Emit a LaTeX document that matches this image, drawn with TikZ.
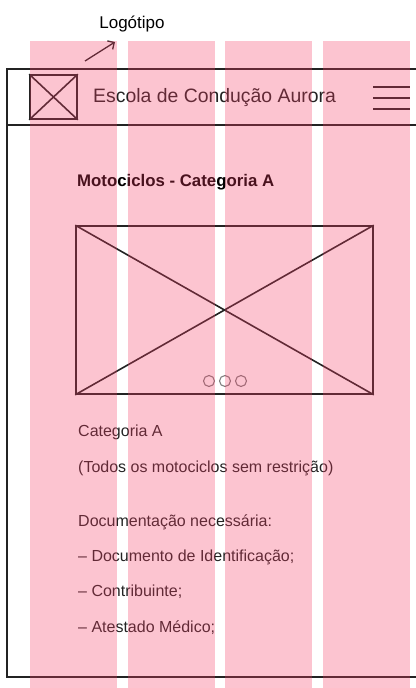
\documentclass[tikz,border=0pt]{standalone}
\usepackage{fontspec}
\setmainfont{Liberation Sans}
\usetikzlibrary{positioning,arrows.meta}
\definecolor{gridpink}{RGB}{245,60,100}
\definecolor{inkgray}{RGB}{35,35,35}

\begin{document}
\begin{tikzpicture}[x=1pt,y=-1pt]
			\tikzstyle{every node}+=[inner sep=0pt]
			\tikzstyle{wire}=[draw=inkgray, line width=1.6pt]
			\tikzstyle{body}=[text=inkgray, anchor=west, font=\fontsize{16}{19}\selectfont]
			\useasboundingbox (0,0) rectangle (415,688);
			% frame and header bar
			\draw [wire] (416,69) -- (7,69) -- (7,677) -- (416,677);
			\draw [wire] (7,125) -- (416,125);
			\node [wire, minimum width=47pt, minimum height=44pt] (logo) at (53.5,97) {};
			\draw [wire] (logo.north west) -- (logo.south east);
			\draw [wire] (logo.south west) -- (logo.north east);
			\node [anchor=west, text=inkgray, font=\fontsize{19.4}{22}\selectfont] (brand) at (93,98) {Escola de Condução Aurora};
			\foreach \y in {87,98,109}
				\draw [wire] (373,\y) -- (410,\y);
			% label
			\node [font=\fontsize{17}{20}\selectfont] (tag) at (132,24) {Logótipo};
			\coordinate (tail) at (85,61);
			\coordinate (head) at (115,42);
			\draw [-{Straight Barb[length=5pt,width=10pt]}, line width=1.3pt, inkgray] (tail) -- (head);
			% content
			\node [anchor=west, text=black, font=\fontsize{16.8}{20}\selectfont\bfseries] (title) at (77,182) {Motociclos - Categoria A};
			\node [wire, minimum width=297pt, minimum height=168pt] (slide) at (224.5,310) {};
			\draw [wire] (slide.north west) -- (slide.south east);
			\draw [wire] (slide.south west) -- (slide.north east);
			\foreach \x in {209,225,241}
				\draw [gray, line width=1.1pt] (\x,381) circle (5.5);
			\node [body] (cat) at (78,432) {Categoria A};
			\node [body] (scope) at (78,468) {(Todos os motociclos sem restrição)};
			\node [body] (docs) at (78,522) {Documentação necessária:};
			\node [body] (docid) at (78,557) {– Documento de Identificação;};
			\node [body] (docnif) at (78,592) {– Contribuinte;};
			\node [body] (docmed) at (78,628) {– Atestado Médico;};
			% grid columns
			\foreach \x in {30,128,225,323}
				\fill [gridpink, fill opacity=0.3] (\x,41) rectangle ++(87,647);
\end{tikzpicture}
\end{document}
